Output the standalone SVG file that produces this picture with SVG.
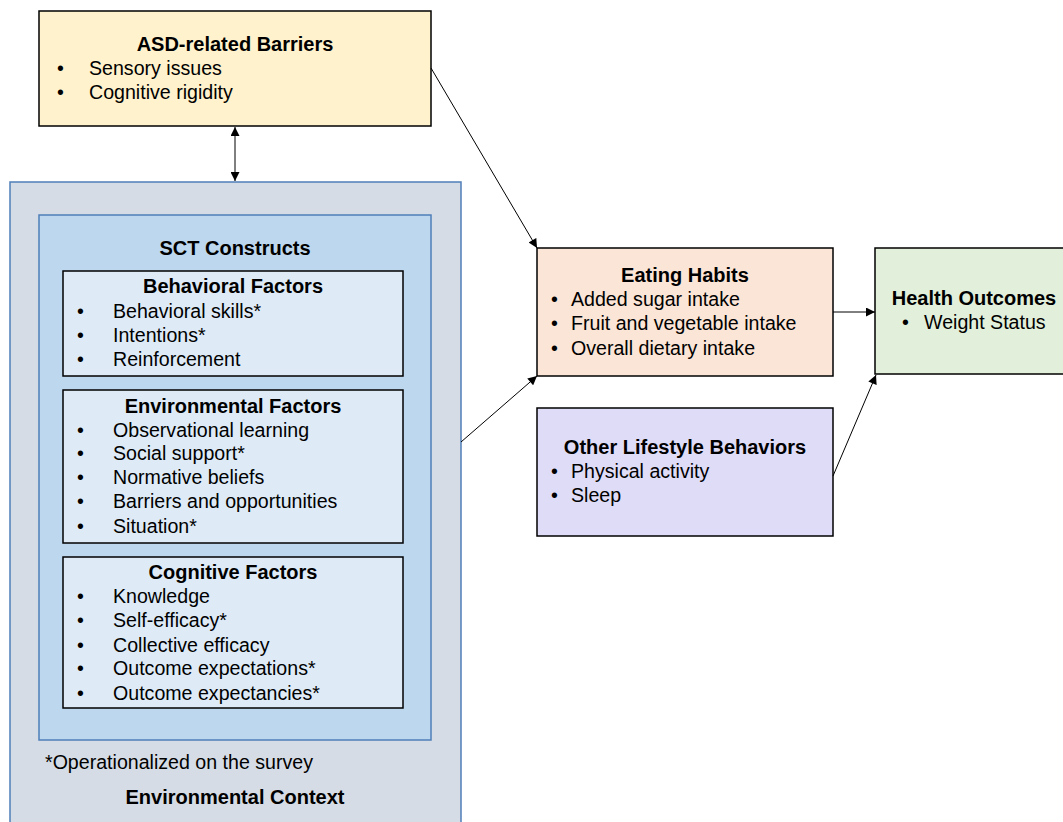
<svg xmlns="http://www.w3.org/2000/svg" width="1063" height="822" viewBox="0 0 1063 822">
<style>
text{font-family:"Liberation Sans",Arial,sans-serif;font-size:19.6px;fill:#000}
.t{font-weight:bold;font-size:20px;text-anchor:middle}
.blk{stroke:#000;stroke-width:1.5}
.blu{stroke:#4F7FB8;stroke-width:1.5}
.c{stroke:#000;stroke-width:1;fill:none}
</style>
<defs>
<marker id="ah" viewBox="0 0 10 10" refX="10" refY="5" markerWidth="10" markerHeight="9" markerUnits="userSpaceOnUse" orient="auto-start-reverse">
<path d="M0,0 L10,5 L0,10 z" fill="#000"/>
</marker>
</defs>
<rect width="1063" height="822" fill="#fff"/>
<g id="asd">
<rect class="blk" x="39" y="11" width="392" height="115" fill="#FFF2CC"/>
<text class="t" x="235" y="51">ASD-related Barriers</text>
<text x="57" y="75">•</text><text x="89" y="75">Sensory issues</text>
<text x="57" y="99">•</text><text x="89" y="99">Cognitive rigidity</text>
</g>
<g id="env-context">
<rect class="blu" x="10" y="182" width="451" height="660" fill="#D6DCE5"/>
<text x="45" y="769">*Operationalized on the survey</text>
<text class="t" x="235" y="804">Environmental Context</text>
</g>
<g id="sct">
<rect class="blu" x="39" y="215" width="392" height="525" fill="#BDD7EE"/>
<text class="t" x="235" y="255">SCT Constructs</text>
</g>
<g id="behavioral">
<rect class="blk" x="63" y="271" width="340" height="105" fill="#DEEBF7"/>
<text class="t" x="233" y="293">Behavioral Factors</text>
<text x="77" y="318">•</text><text x="113" y="318">Behavioral skills*</text>
<text x="77" y="342">•</text><text x="113" y="342">Intentions*</text>
<text x="77" y="366">•</text><text x="113" y="366">Reinforcement</text>
</g>
<g id="environmental">
<rect class="blk" x="63" y="390" width="340" height="153" fill="#DEEBF7"/>
<text class="t" x="233" y="413">Environmental Factors</text>
<text x="77" y="437">•</text><text x="113" y="437">Observational learning</text>
<text x="77" y="460">•</text><text x="113" y="460">Social support*</text>
<text x="77" y="484">•</text><text x="113" y="484">Normative beliefs</text>
<text x="77" y="508">•</text><text x="113" y="508">Barriers and opportunities</text>
<text x="77" y="533">•</text><text x="113" y="533">Situation*</text>
</g>
<g id="cognitive">
<rect class="blk" x="63" y="557" width="340" height="151" fill="#DEEBF7"/>
<text class="t" x="233" y="579">Cognitive Factors</text>
<text x="77" y="603">•</text><text x="113" y="603">Knowledge</text>
<text x="77" y="627">•</text><text x="113" y="627">Self-efficacy*</text>
<text x="77" y="652">•</text><text x="113" y="652">Collective efficacy</text>
<text x="77" y="675">•</text><text x="113" y="675">Outcome expectations*</text>
<text x="77" y="700">•</text><text x="113" y="700">Outcome expectancies*</text>
</g>
<g id="eating">
<rect class="blk" x="537" y="248" width="296" height="128" fill="#FBE5D6"/>
<text class="t" x="685" y="282">Eating Habits</text>
<text x="551" y="306">•</text><text x="571" y="306">Added sugar intake</text>
<text x="551" y="330">•</text><text x="571" y="330">Fruit and vegetable intake</text>
<text x="551" y="355">•</text><text x="571" y="355">Overall dietary intake</text>
</g>
<g id="other">
<rect class="blk" x="537" y="408" width="296" height="128" fill="#DFDCF7"/>
<text class="t" x="685" y="454">Other Lifestyle Behaviors</text>
<text x="551" y="478">•</text><text x="571" y="478">Physical activity</text>
<text x="551" y="502">•</text><text x="571" y="502">Sleep</text>
</g>
<g id="health">
<rect class="blk" x="875" y="248" width="200" height="126" fill="#E2EFDA"/>
<text class="t" x="974" y="305">Health Outcomes</text>
<text x="902" y="329">•</text><text x="924" y="329">Weight Status</text>
</g>
<g id="connectors">
<line class="c" x1="235" y1="127" x2="235" y2="181" marker-start="url(#ah)" marker-end="url(#ah)"/>
<line class="c" x1="431" y1="68" x2="537" y2="248" marker-end="url(#ah)"/>
<line class="c" x1="461" y1="442" x2="537" y2="376" marker-end="url(#ah)"/>
<line class="c" x1="833" y1="312" x2="875" y2="312" marker-end="url(#ah)"/>
<line class="c" x1="833" y1="476" x2="876" y2="375" marker-end="url(#ah)"/>
</g>
</svg>
